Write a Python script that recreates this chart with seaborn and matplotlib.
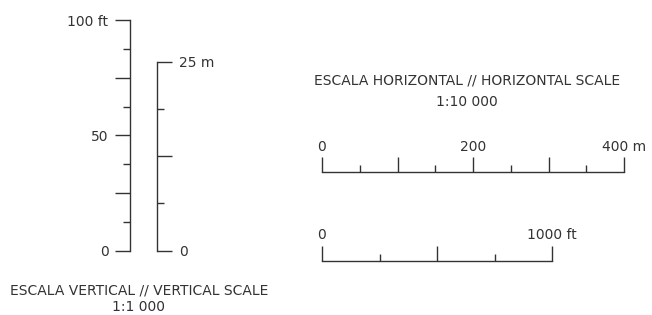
import numpy as np
import matplotlib.pyplot as plt
from matplotlib.ticker import FixedLocator, FixedFormatter
import seaborn as sns

# Vertical scale 1:1 000
vert_ft_major = [0, 25, 50, 75, 100]
vert_ft_minor = [12.5, 37.5, 62.5, 87.5]
vert_ft_labels = ["0", "", "50", "", "100 ft"]

vert_m_major = [0, 12.5, 25]
vert_m_minor = [6.25, 18.75]
vert_m_labels = ["0", "", "25 m"]

# Horizontal scale 1:10 000
horiz_m_major = [0, 100, 200, 300, 400]
horiz_m_minor = [50, 150, 250, 350]
horiz_m_labels = ["0", "", "200", "", "400 m"]

horiz_ft_major = [0, 500, 1000]
horiz_ft_minor = [250, 750]
horiz_ft_labels = ["0", "", "1000 ft"]

vert_title = "ESCALA VERTICAL // VERTICAL SCALE"
vert_ratio = "1:1 000"
horiz_title = "ESCALA HORIZONTAL // HORIZONTAL SCALE"
horiz_ratio = "1:10 000"

FT = 0.3048           # metres per foot
PX_M_VERT = 7.55      # pixels per metre at 1:1 000
PX_M_HORIZ = 0.755    # pixels per metre at 1:10 000

W, H = 652, 315
INK = "#333333"

sns.set_theme(style="white")
plt.rcParams['font.family'] = ['DejaVu Sans']
plt.rcParams['text.color'] = INK

fig = plt.figure(figsize=(W / 100, H / 100), dpi=100)


def px_axes(x, y_top, w, h):
    # axes rectangle given in pixels measured from the top-left corner
    return fig.add_axes([x / W, 1 - (y_top + h) / H, w / W, h / H])


def style_axis(axis, major, minor, labels, pad):
    axis.set_major_locator(FixedLocator(major))
    axis.set_minor_locator(FixedLocator(minor))
    axis.set_major_formatter(FixedFormatter(labels))
    axis.set_tick_params(which="major", length=10.5, width=1.0, color=INK,
                         direction="out", pad=pad, labelsize=10, labelcolor=INK)
    axis.set_tick_params(which="minor", length=5, width=1.0, color=INK,
                         direction="out")


def clean(ax, keep):
    ax.set_facecolor("none")
    for side, sp in ax.spines.items():
        sp.set_visible(side == keep)
        sp.set_color(INK)
        sp.set_linewidth(1.0)


# vertical feet bar (ticks to the left)
h_ft = 100 * FT * PX_M_VERT
ax1 = px_axes(130, 250.5 - h_ft, 4, h_ft)
ax1.set_ylim(0, 100)
ax1.set_xticks([])
style_axis(ax1.yaxis, vert_ft_major, vert_ft_minor, vert_ft_labels, pad=5)
ax1.tick_params(axis="y", which="both", left=True, right=False,
                labelleft=True, labelright=False)
clean(ax1, "left")

# vertical metre bar (ticks to the right)
h_m = 25 * PX_M_VERT
ax2 = px_axes(153, 250.5 - h_m, 4, h_m)
ax2.set_ylim(0, 25)
ax2.set_xticks([])
style_axis(ax2.yaxis, vert_m_major, vert_m_minor, vert_m_labels, pad=5.5)
ax2.tick_params(axis="y", which="both", left=False, right=True,
                labelleft=False, labelright=True)
clean(ax2, "right")

# horizontal metre bar (ticks upward)
w_m = 400 * PX_M_HORIZ
ax3 = px_axes(322, 172, w_m, 4)
ax3.set_xlim(0, 400)
ax3.set_yticks([])
style_axis(ax3.xaxis, horiz_m_major, horiz_m_minor, horiz_m_labels, pad=2.5)
ax3.tick_params(axis="x", which="both", bottom=False, top=True,
                labelbottom=False, labeltop=True)
clean(ax3, "top")

# horizontal feet bar (ticks upward)
w_ft = 1000 * FT * PX_M_HORIZ
ax4 = px_axes(322, 261, w_ft, 4)
ax4.set_xlim(0, 1000)
ax4.set_yticks([])
style_axis(ax4.xaxis, horiz_ft_major, horiz_ft_minor, horiz_ft_labels, pad=3.5)
ax4.tick_params(axis="x", which="both", bottom=False, top=True,
                labelbottom=False, labeltop=True)
clean(ax4, "top")

# captions
fig.text(139 / W, 1 - 291 / H, vert_title, ha="center", va="center", fontsize=10)
fig.text(139 / W, 1 - 307 / H, vert_ratio, ha="center", va="center", fontsize=10)
fig.text(467 / W, 1 - 81 / H, horiz_title, ha="center", va="center", fontsize=10)
fig.text(467 / W, 1 - 102 / H, horiz_ratio, ha="center", va="center", fontsize=10)

fig.savefig("out.png", dpi=100, facecolor="white")
